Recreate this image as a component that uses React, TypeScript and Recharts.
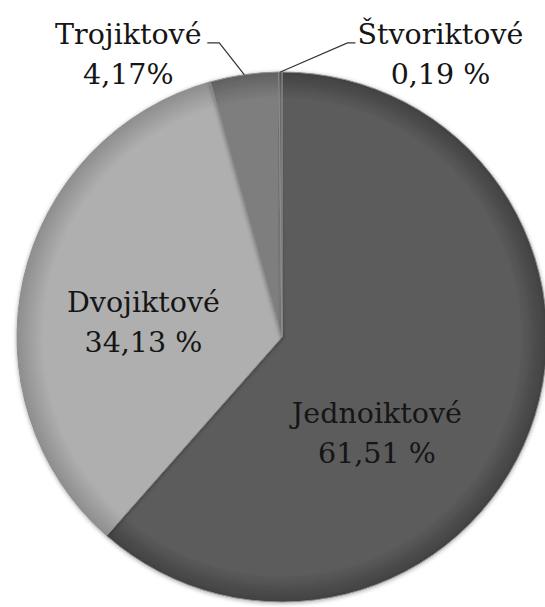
import React from "react";
import { PieChart, Pie, Cell } from "recharts";

const categories = ["Jednoiktové", "Dvojiktové", "Trojiktové", "Štvoriktové"];
const shares = [61.51, 34.13, 4.17, 0.19];
const shareLabels = ["61,51 %", "34,13 %", "4,17%", "0,19 %"];

const data = categories.map((name, i) => ({ name, value: shares[i], pct: shareLabels[i] }));

const baseColors = ["#5b5b5b", "#afafaf", "#7e7e7e", "#6a6a6a"];
const rimColors = ["#414141", "#8e8e8e", "#606060", "#4e4e4e"];

const placement: Record<string, { dx: number; dy: number; outside?: boolean; side?: number }> = {
  "Jednoiktové": { dx: 0.358, dy: 0.325 },
  "Dvojiktové": { dx: -0.523, dy: -0.094 },
  "Trojiktové": { dx: -0.58, dy: -1.106, outside: true, side: -1 },
  "Štvoriktové": { dx: 0.598, dy: -1.106, outside: true, side: 1 },
};

const RAD = Math.PI / 180;
const FONT = "DejaVu Serif";

const renderLabel = (props: any) => {
  const { cx, cy, outerRadius, midAngle, payload } = props;
  const name = payload?.name ?? props.name;
  const pct = payload?.pct ?? props.pct;
  const p = placement[name];
  if (!p) return null;
  const x = cx + p.dx * outerRadius;
  const y = cy + p.dy * outerRadius;
  const lineH = 40;
  let leader = null;
  if (p.outside) {
    const ex = cx + outerRadius * Math.cos(-midAngle * RAD);
    const ey = cy + outerRadius * Math.sin(-midAngle * RAD);
    const ly = y - 1;
    const kx = p.side! < 0 ? x + 91 : x - 93;
    const hx = p.side! < 0 ? x + 79 : x - 85;
    leader = (
      <polyline
        points={`${ex},${ey} ${kx},${ly} ${hx},${ly}`}
        fill="none"
        stroke="#333"
        strokeWidth={1.2}
      />
    );
  }
  return (
    <g key={name}>
      {leader}
      <text x={x} y={y} textAnchor="middle" fontFamily={FONT} fontSize={28.5} fill="#151515">
        {name}
      </text>
      <text x={x} y={y + lineH} textAnchor="middle" fontFamily={FONT} fontSize={28.5} fill="#151515">
        {pct}
      </text>
    </g>
  );
};

export default function App() {
  return (
    <div style={{ position: "absolute", left: 0, top: 0, width: 545, height: 607, background: "#fff" }}>
      <PieChart width={545} height={607} margin={{ top: 0, right: 0, bottom: 0, left: 0 }}>
        <defs>
          {baseColors.map((c, i) => (
            <radialGradient key={i} id={`g${i}`} gradientUnits="userSpaceOnUse" cx={282} cy={337} r={265}>
              <stop offset="0%" stopColor={c} />
              <stop offset="90%" stopColor={c} />
              <stop offset="100%" stopColor={rimColors[i]} />
            </radialGradient>
          ))}
          <filter id="shadow" x="-10%" y="-10%" width="120%" height="120%">
            <feDropShadow dx="0" dy="1" stdDeviation="2" floodColor="#000" floodOpacity="0.35" />
          </filter>
        </defs>
        <Pie
          data={data}
          dataKey="value"
          nameKey="name"
          cx={282}
          cy={337}
          outerRadius={265}
          startAngle={90}
          endAngle={-270}
          isAnimationActive={false}
          stroke="#8e8e8e"
          strokeWidth={1}
          label={renderLabel}
          labelLine={false}
          style={{ filter: "url(#shadow)" }}
        >
          {data.map((d, i) => (
            <Cell key={d.name} fill={`url(#g${i})`} />
          ))}
        </Pie>
      </PieChart>
    </div>
  );
}
